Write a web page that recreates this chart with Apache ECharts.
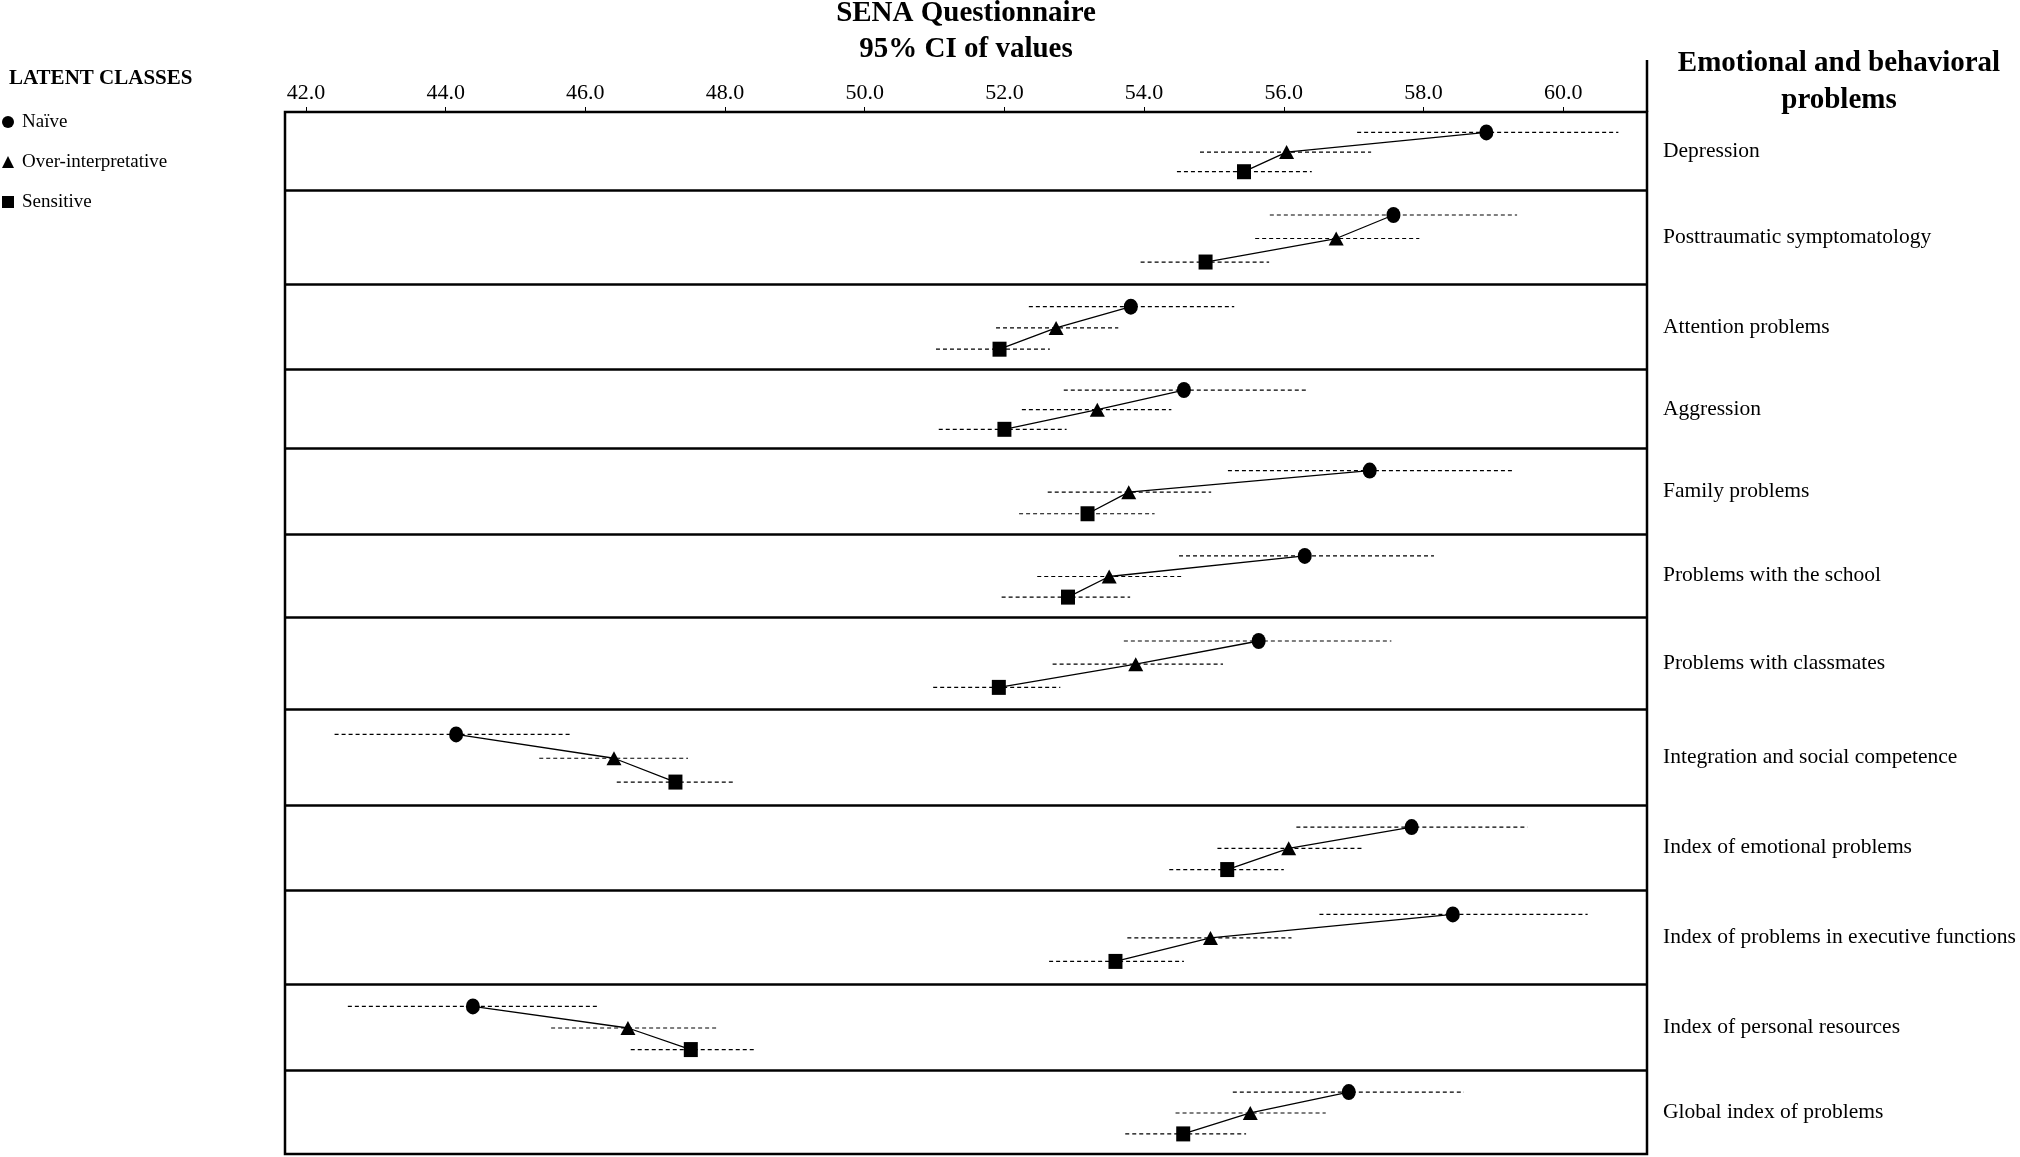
<!DOCTYPE html>
<html>
<head>
<meta charset="utf-8">
<title>SENA Questionnaire</title>
<script src="https://cdn.jsdelivr.net/npm/echarts@6/dist/echarts.min.js"></script>
<style>
  html, body { margin: 0; padding: 0; background: #fff; }
  #chart { width: 2020px; height: 1157px; }
</style>
</head>
<body>
<div id="chart"></div>
<script>
// rows, top to bottom
const categories = [
  "Depression",
  "Posttraumatic symptomatology",
  "Attention problems",
  "Aggression",
  "Family problems",
  "Problems with the school",
  "Problems with classmates",
  "Integration and social competence",
  "Index of emotional problems",
  "Index of problems in executive functions",
  "Index of personal resources",
  "Global index of problems"
];

const classNames = ["Naïve", "Over-interpretative", "Sensitive"];

// mean and 95% CI per latent class
const naiveMean = [58.90, 57.57, 53.81, 54.57, 57.23, 56.30, 55.64, 44.15, 57.83, 58.42, 44.39, 56.93];
const naiveLow  = [57.05, 55.80, 52.35, 52.85, 55.20, 54.50, 53.71, 42.41, 56.18, 56.51, 42.60, 55.27];
const naiveHigh = [60.79, 59.34, 55.29, 56.34, 59.29, 58.15, 57.54, 45.80, 59.49, 60.35, 46.20, 58.58];

const overMean = [56.04, 56.75, 52.74, 53.33, 53.78, 53.50, 53.88, 46.41, 56.07, 54.95, 46.61, 55.52];
const overLow  = [54.80, 55.59, 51.88, 52.25, 52.62, 52.47, 52.69, 45.34, 55.05, 53.76, 45.51, 54.45];
const overHigh = [57.25, 57.94, 53.63, 54.39, 54.96, 54.53, 55.13, 47.47, 57.13, 56.11, 47.91, 56.60];

const sensMean = [55.43, 54.88, 51.93, 52.00, 53.19, 52.91, 51.92, 47.29, 55.19, 53.59, 47.51, 54.56];
const sensLow  = [54.47, 53.95, 51.02, 51.06, 52.21, 51.96, 50.98, 46.45, 54.36, 52.64, 46.65, 53.73];
const sensHigh = [56.40, 55.79, 52.65, 52.89, 54.15, 53.80, 52.80, 48.14, 56.00, 54.57, 48.43, 55.46];

const tickValues = [42, 44, 46, 48, 50, 52, 54, 56, 58, 60];

// layout: relative row heights and where each class sits inside a row
const rowHeights = [61, 73, 66, 61, 67, 64, 72, 74, 66, 73, 67, 65];
const classOffsets = [0.26, 0.51, 0.76];

const FONT = '"Liberation Serif", "Times New Roman", serif';
const gridLeft = 285, gridRight = 373, gridTop = 112, gridBottom = 3;

let rowStart = [];
let acc = 0;
rowHeights.forEach(h => { rowStart.push(acc); acc += h; });
const totalHeight = acc;
const rowCenters = rowStart.map((s, i) => s + rowHeights[i] / 2);
const rowEdges = rowStart.slice(1);

function rowY(i, k) {
  return rowStart[i] + rowHeights[i] * classOffsets[k];
}

const groups = [
  { mean: naiveMean, low: naiveLow, high: naiveHigh, symbol: "circle", size: [14, 16] },
  { mean: overMean, low: overLow, high: overHigh, symbol: "triangle", size: [15, 14] },
  { mean: sensMean, low: sensLow, high: sensHigh, symbol: "rect", size: [14, 15] }
];

let series = [];

// dashed CI lines
groups.forEach((g, k) => {
  series.push({
    name: classNames[k] + " CI",
    type: "custom",
    silent: true,
    z: 2,
    encode: { x: [0, 1], y: 2 },
    data: categories.map((c, i) => [g.low[i], g.high[i], rowY(i, k)]),
    renderItem: function (params, api) {
      let a = api.coord([api.value(0), api.value(2)]);
      let b = api.coord([api.value(1), api.value(2)]);
      return {
        type: "line",
        shape: { x1: a[0], y1: a[1], x2: b[0], y2: b[1] },
        style: { stroke: "#000", lineWidth: 1.2, lineDash: [4, 3] }
      };
    }
  });
});

// solid line joining the three means of a row
categories.forEach((c, i) => {
  series.push({
    name: c,
    type: "line",
    z: 3,
    symbol: "none",
    silent: true,
    lineStyle: { color: "#000", width: 1.3 },
    data: groups.map((g, k) => [g.mean[i], rowY(i, k)])
  });
});

// markers
groups.forEach((g, k) => {
  series.push({
    name: classNames[k],
    type: "scatter",
    z: 4,
    symbol: g.symbol,
    symbolSize: g.size,
    itemStyle: { color: "#000", opacity: 1 },
    data: categories.map((c, i) => [g.mean[i], rowY(i, k)])
  });
});

// row separators
series[0].markLine = {
  silent: true,
  symbol: "none",
  label: { show: false },
  lineStyle: { color: "#000", width: 2.5, type: "solid" },
  data: rowEdges.map(v => ({ yAxis: v }))
};

let chart = echarts.init(document.getElementById("chart"));
let option = {
  animation: false,
  backgroundColor: "#fff",
  textStyle: { fontFamily: FONT, color: "#000" },
  title: [
    {
      text: "SENA Questionnaire\n95% CI of values",
      left: 966, top: -4, padding: 0, textAlign: "center",
      textStyle: { fontFamily: FONT, fontSize: 29, fontWeight: "bold", lineHeight: 36, color: "#000" }
    },
    {
      text: "LATENT CLASSES",
      left: 9, top: 67, padding: 0,
      textStyle: { fontFamily: FONT, fontSize: 21, fontWeight: "bold", lineHeight: 24, color: "#000" }
    },
    {
      text: "Emotional and behavioral\nproblems",
      left: 1839, top: 45, padding: 0, textAlign: "center",
      textStyle: { fontFamily: FONT, fontSize: 29, fontWeight: "bold", lineHeight: 37, color: "#000" }
    }
  ],
  legend: {
    data: classNames,
    orient: "vertical",
    left: 2, top: 112, padding: 0,
    itemWidth: 12, itemHeight: 12, itemGap: 20,
    selectedMode: false,
    textStyle: { fontFamily: FONT, fontSize: 19, lineHeight: 20, color: "#000", padding: [0, 0, 0, 3] }
  },
  grid: {
    left: gridLeft, right: gridRight, top: gridTop, bottom: gridBottom,
    show: true, borderColor: "#000", borderWidth: 2.5, backgroundColor: "#fff"
  },
  xAxis: {
    type: "value",
    position: "top",
    min: 41.7, max: 61.2,
    splitLine: { show: false },
    axisLine: { show: false },
    axisTick: { show: true, customValues: tickValues, length: 5, lineStyle: { color: "#000", width: 1 } },
    axisLabel: {
      customValues: tickValues,
      formatter: v => Number(v).toFixed(1),
      fontFamily: FONT, fontSize: 22, color: "#000", margin: 8
    }
  },
  yAxis: {
    type: "value",
    inverse: true,
    position: "right",
    min: 0, max: totalHeight,
    splitLine: { show: false },
    axisLine: { show: false },
    axisTick: { show: false },
    axisLabel: {
      customValues: rowCenters,
      formatter: function (v) {
        let i = rowCenters.findIndex(c => Math.abs(c - v) < 1e-6);
        return i >= 0 ? categories[i] : "";
      },
      fontFamily: FONT, fontSize: 21.5, color: "#000", margin: 16, align: "left"
    }
  },
  graphic: [
    {
      type: "line",
      shape: { x1: 2020 - gridRight, y1: 60, x2: 2020 - gridRight, y2: gridTop },
      style: { stroke: "#000", lineWidth: 2.5 }
    }
  ],
  series: series
};
chart.setOption(option);
</script>
</body>
</html>
